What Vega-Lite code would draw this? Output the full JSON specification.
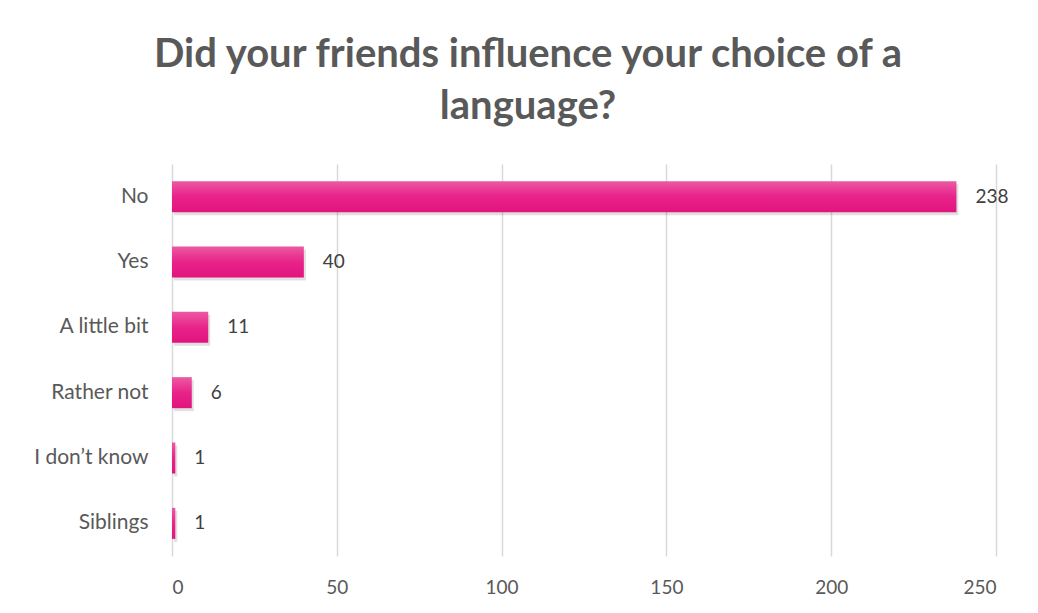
{
  "$schema": "https://vega.github.io/schema/vega-lite/v6.json",
  "width": 824,
  "height": 392,
  "autosize": "none",
  "padding": {"left": 172, "top": 164, "right": 42, "bottom": 57},
  "background": "white",
  "title": {
    "text": ["Did your friends influence your choice of a", "language?"],
    "font": "Lato",
    "fontSize": 40,
    "fontWeight": "bold",
    "color": "#595959",
    "anchor": "middle",
    "lineHeight": 52,
    "offset": 37,
    "dx": -56
  },
  "data": {
    "values": [
      {"answer": "No", "count": 238},
      {"answer": "Yes", "count": 40},
      {"answer": "A little bit", "count": 11},
      {"answer": "Rather not", "count": 6},
      {"answer": "I don’t know", "count": 1},
      {"answer": "Siblings", "count": 1}
    ]
  },
  "encoding": {
    "y": {
      "field": "answer",
      "type": "nominal",
      "sort": null,
      "scale": {"paddingInner": 0.525, "paddingOuter": 0.2625},
      "axis": {
        "title": null,
        "ticks": false,
        "domain": false,
        "grid": false,
        "labelFont": "Lato",
        "labelFontSize": 21,
        "labelColor": "#595959",
        "labelPadding": 24
      }
    },
    "x": {
      "field": "count",
      "type": "quantitative",
      "scale": {"domain": [0, 250], "nice": false},
      "axis": {
        "title": null,
        "values": [0, 50, 100, 150, 200, 250],
        "ticks": false,
        "domain": false,
        "grid": true,
        "gridColor": "#d9d9d9",
        "gridWidth": 1.5,
        "labelFont": "Lato",
        "labelFontSize": 19,
        "labelColor": "#595959",
        "labelPadding": 22
      }
    }
  },
  "layer": [
    {
      "mark": {
        "type": "bar",
        "color": "#000000",
        "opacity": 0.12,
        "xOffset": 2,
        "yOffset": 3
      }
    },
    {
      "mark": {
        "type": "bar",
        "color": {
          "gradient": "linear",
          "x1": 0, "y1": 0, "x2": 0, "y2": 1,
          "stops": [
            {"offset": 0, "color": "#ec5aa3"},
            {"offset": 0.5, "color": "#e8238a"},
            {"offset": 1, "color": "#e3137d"}
          ]
        }
      }
    },
    {
      "mark": {
        "type": "text",
        "align": "left",
        "baseline": "middle",
        "dx": 19,
        "font": "Lato",
        "fontSize": 19,
        "color": "#404040"
      },
      "encoding": {"text": {"field": "count", "type": "quantitative"}}
    }
  ],
  "config": {"view": {"stroke": null}}
}
